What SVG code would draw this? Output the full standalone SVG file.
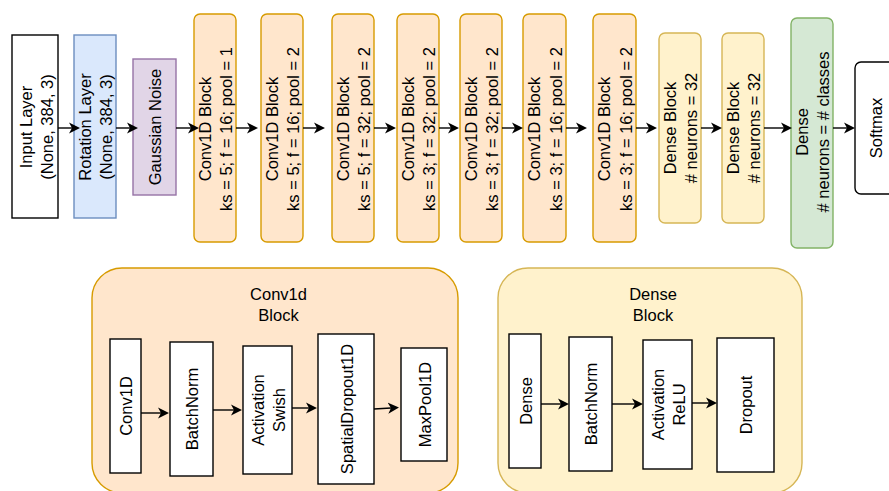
<svg xmlns="http://www.w3.org/2000/svg" width="889" height="491" viewBox="0 0 889 491">
<style>
text{font-family:"Liberation Sans",Arial,Helvetica,sans-serif;font-size:16.5px;fill:#000;text-anchor:middle;dominant-baseline:central}
.plain{fill:#fff;stroke:#000;stroke-width:1.4}
.blue{fill:#dae8fc;stroke:#6c8ebf;stroke-width:1.4}
.purple{fill:#e1d5e7;stroke:#9673a6;stroke-width:1.4}
.orange{fill:#ffe6cc;stroke:#d79b00;stroke-width:1.4}
.yellow{fill:#fff2cc;stroke:#d6b656;stroke-width:1.4}
.green{fill:#d5e8d4;stroke:#82b366;stroke-width:1.4}
.edge{fill:none;stroke:#000;stroke-width:1.4;marker-end:url(#arr)}
</style>
<defs>
<marker id="arr" viewBox="0 0 11 12" refX="3" refY="6" markerWidth="11" markerHeight="12" markerUnits="userSpaceOnUse" orient="auto">
<path d="M0,0.5 L11,6 L0,11.5 L3,6 Z" fill="#000"/>
</marker>
</defs>

<!-- containers -->
<g id="conv1d-block-container">
<rect class="orange" x="92" y="268" width="366" height="225" rx="30"/>
<text x="278.5" y="294">Conv1d</text>
<text x="278.5" y="315">Block</text>
</g>
<g id="dense-block-container">
<rect class="yellow" x="498" y="268" width="304" height="225" rx="30"/>
<text x="653" y="294">Dense</text>
<text x="653" y="315">Block</text>
</g>

<!-- top row -->
<g id="input-layer">
<rect class="plain" x="12" y="35" width="46" height="183"/>
<text transform="translate(36,127) rotate(-90)"><tspan x="0" y="-10.5">Input Layer</tspan><tspan x="0" y="10.5">(None, 384, 3)</tspan></text>
</g>
<g id="rotation-layer">
<rect class="blue" x="74" y="35" width="42" height="183"/>
<text transform="translate(95.5,127) rotate(-90)"><tspan x="0" y="-10.5">Rotation Layer</tspan><tspan x="0" y="10.5">(None, 384, 3)</tspan></text>
</g>
<g id="gaussian-noise">
<rect class="purple" x="133" y="59" width="43" height="136"/>
<text transform="translate(155,127) rotate(-90)">Gaussian Noise</text>
</g>
<g id="conv1">
<rect class="orange" x="194" y="14" width="42" height="228" rx="6"/>
<text transform="translate(215.5,129) rotate(-90)"><tspan x="0" y="-10.75">Conv1D Block</tspan><tspan x="0" y="10.75">ks = 5; f = 16; pool = 1</tspan></text>
</g>
<g id="conv2">
<rect class="orange" x="261" y="14" width="42" height="228" rx="6"/>
<text transform="translate(282.5,129) rotate(-90)"><tspan x="0" y="-10.75">Conv1D Block</tspan><tspan x="0" y="10.75">ks = 5; f = 16; pool = 2</tspan></text>
</g>
<g id="conv3">
<rect class="orange" x="332" y="14" width="42" height="228" rx="6"/>
<text transform="translate(353.5,129) rotate(-90)"><tspan x="0" y="-10.75">Conv1D Block</tspan><tspan x="0" y="10.75">ks = 5; f = 32; pool = 2</tspan></text>
</g>
<g id="conv4">
<rect class="orange" x="397" y="14" width="42" height="228" rx="6"/>
<text transform="translate(418.5,129) rotate(-90)"><tspan x="0" y="-10.75">Conv1D Block</tspan><tspan x="0" y="10.75">ks = 3; f = 32; pool = 2</tspan></text>
</g>
<g id="conv5">
<rect class="orange" x="460" y="14" width="42" height="228" rx="6"/>
<text transform="translate(481.5,129) rotate(-90)"><tspan x="0" y="-10.75">Conv1D Block</tspan><tspan x="0" y="10.75">ks = 3; f = 32; pool = 2</tspan></text>
</g>
<g id="conv6">
<rect class="orange" x="523" y="14" width="43" height="228" rx="6"/>
<text transform="translate(545,129) rotate(-90)"><tspan x="0" y="-10.75">Conv1D Block</tspan><tspan x="0" y="10.75">ks = 3; f = 16; pool = 2</tspan></text>
</g>
<g id="conv7">
<rect class="orange" x="593" y="14" width="43" height="228" rx="6"/>
<text transform="translate(615,129) rotate(-90)"><tspan x="0" y="-10.75">Conv1D Block</tspan><tspan x="0" y="10.75">ks = 3; f = 16; pool = 2</tspan></text>
</g>
<g id="dense-block1">
<rect class="yellow" x="659" y="33" width="42" height="190" rx="6"/>
<text transform="translate(680.5,128) rotate(-90)"><tspan x="0" y="-10.75">Dense Block</tspan><tspan x="0" y="10.75"># neurons = 32</tspan></text>
</g>
<g id="dense-block2">
<rect class="yellow" x="722" y="33" width="42" height="190" rx="6"/>
<text transform="translate(743.5,128) rotate(-90)"><tspan x="0" y="-10.75">Dense Block</tspan><tspan x="0" y="10.75"># neurons = 32</tspan></text>
</g>
<g id="dense-out">
<rect class="green" x="791" y="18" width="42" height="230" rx="6"/>
<text transform="translate(812.5,132) rotate(-90)"><tspan x="0" y="-10.75">Dense</tspan><tspan x="0" y="10.75"># neurons = # classes</tspan></text>
</g>
<g id="softmax">
<rect class="plain" x="855" y="62" width="44" height="132" rx="6"/>
<text transform="translate(876,128) rotate(-90)">Softmax</text>
</g>

<!-- conv1d block internals -->
<g id="cb-conv1d">
<rect class="plain" x="110" y="339" width="31" height="134"/>
<text transform="translate(126,406) rotate(-90)">Conv1D</text>
</g>
<g id="cb-batchnorm">
<rect class="plain" x="170" y="342" width="43" height="134"/>
<text transform="translate(192,409) rotate(-90)">BatchNorm</text>
</g>
<g id="cb-activation">
<rect class="plain" x="243" y="346" width="49" height="128"/>
<text transform="translate(268,410) rotate(-90)"><tspan x="0" y="-10.5">Activation</tspan><tspan x="0" y="10.5">Swish</tspan></text>
</g>
<g id="cb-spatialdropout">
<rect class="plain" x="318" y="334" width="56" height="150"/>
<text transform="translate(346.5,409) rotate(-90)">SpatialDropout1D</text>
</g>
<g id="cb-maxpool">
<rect class="plain" x="401" y="348" width="46" height="113"/>
<text transform="translate(424.5,404.5) rotate(-90)">MaxPool1D</text>
</g>

<!-- dense block internals -->
<g id="db-dense">
<rect class="plain" x="509" y="334" width="32" height="134"/>
<text transform="translate(525.5,401) rotate(-90)">Dense</text>
</g>
<g id="db-batchnorm">
<rect class="plain" x="569" y="337" width="43" height="134"/>
<text transform="translate(591,404) rotate(-90)">BatchNorm</text>
</g>
<g id="db-activation">
<rect class="plain" x="643" y="340" width="49" height="129"/>
<text transform="translate(668,404.5) rotate(-90)"><tspan x="0" y="-10.5">Activation</tspan><tspan x="0" y="10.5">ReLU</tspan></text>
</g>
<g id="db-dropout">
<rect class="plain" x="717" y="338" width="57" height="134"/>
<text transform="translate(746,405) rotate(-90)">Dropout</text>
</g>

<!-- connectors -->
<g id="connectors">
<path class="edge" d="M58,128 H72"/>
<path class="edge" d="M116,128 H130"/>
<path class="edge" d="M176,128 H191"/>
<path class="edge" d="M236,128 H250"/>
<path class="edge" d="M303,128 H317"/>
<path class="edge" d="M374,128 H388"/>
<path class="edge" d="M439,128 H451"/>
<path class="edge" d="M502,128 H515"/>
<path class="edge" d="M566,128 H579"/>
<path class="edge" d="M636,128 H649"/>
<path class="edge" d="M701,128 H714"/>
<path class="edge" d="M764,128 H784"/>
<path class="edge" d="M833,128 H847"/>

<path class="edge" d="M141,413 H161"/>
<path class="edge" d="M213,410 H234"/>
<path class="edge" d="M292,408 H309"/>
<path class="edge" d="M374,409 L391,408"/>
<path class="edge" d="M541,404 H561"/>
<path class="edge" d="M612,404 H635"/>
<path class="edge" d="M692,403 H709"/>
</g>
</svg>
